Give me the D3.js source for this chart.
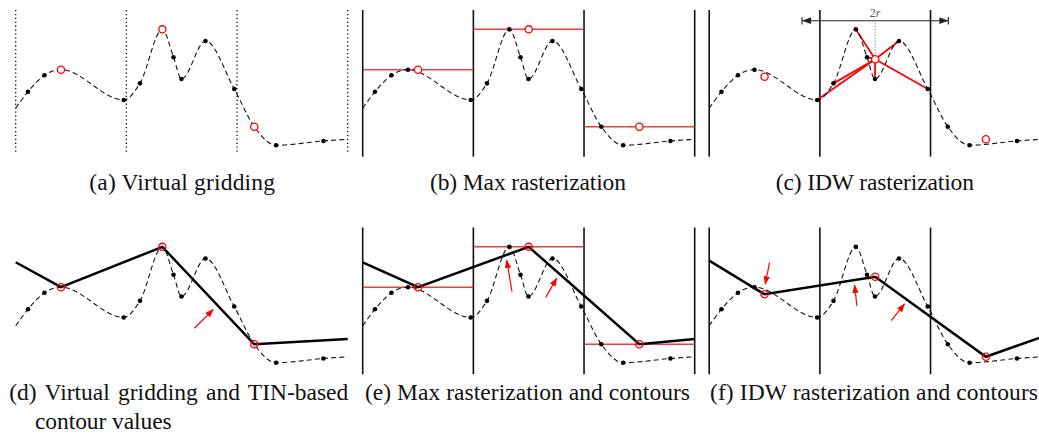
<!DOCTYPE html>
<html><head><meta charset="utf-8">
<script src="https://cdn.jsdelivr.net/npm/d3@7"></script>
<style>html,body{margin:0;padding:0;background:#fff;overflow:hidden}</style>
</head><body>
<svg id="chart" width="1039" height="441"></svg>
<script>
// ---- data (x in grid-cell units, y in elevation units 0..100) ----
const cellEdges = [0, 1, 2, 3];
const cellCenters = [0.5, 1.5, 2.5];
const sampleX = [0.111, 0.260, 0.409, 0.976, 1.123, 1.325, 1.426, 1.498, 1.715, 1.975, 2.156, 2.353, 2.781];
const sampleY = [44.3, 55.5, 59.3, 38.7, 50.0, 86.8, 67.8, 53.0, 78.9, 46.1, 20.4, 7.8, 10.7];
const curveEndX = [0, 3];
const curveEndY = [33.0, 11.9];
const virtualIdx = [2, 5, 10];
const maxValues = [59.3, 86.8, 20.4];
const idwValues = [54.5, 66.4, 11.9];
const idwCell = 1;
const idwNeighbours = [3, 4, 5, 6, 7, 8, 9];
const idwRadius = 0.661;
const dimLineY = 92.7;
const tinLineX = [0, 0.409, 1.325, 2.156, 3];
const tinLineY = [76.3, 59.3, 86.8, 20.4, 24.0];
const maxLineX = [0, 0.5, 1.5, 2.5, 3];
const maxLineY = [76.3, 59.3, 86.8, 20.4, 24.0];
const idwLineX = [0, 0.5, 1.5, 2.5, 3];
const idwLineY = [77.4, 54.5, 66.4, 11.9, 25.2];
const arrowsD = [[1.614, 31.3, 1.786, 44.2]];
const arrowsE = [[1.349, 56.2, 1.301, 77.8], [1.654, 52.4, 1.753, 65.4]];
const arrowsF = [[0.545, 76.0, 0.506, 61.3], [1.335, 46.5, 1.313, 60.8], [1.645, 36.5, 1.765, 47.9]];
const captionTop = ["(a) Virtual gridding", "(b) Max rasterization", "(c) IDW rasterization"];
const captionBottom = ["(d) Virtual gridding and TIN-based", "(e) Max rasterization and contours", "(f) IDW rasterization and contours"];
const captionExtra = "contour values";

// ---- layout ----
const svg = d3.select("#chart");
const RED = "#f21a1a";
const panelOX = [0, 347, 693.5];
const panelOY = [0, 217.5];

const defs = svg.append("defs");
defs.append("marker").attr("id", "redhead").attr("markerUnits", "userSpaceOnUse")
  .attr("markerWidth", 9).attr("markerHeight", 7).attr("refX", 8).attr("refY", 3.25).attr("orient", "auto")
  .append("path").attr("d", "M0,0 L8.5,3.25 L0,6.5 z").attr("fill", "#f00");
defs.append("marker").attr("id", "dimhead").attr("markerUnits", "userSpaceOnUse")
  .attr("markerWidth", 12).attr("markerHeight", 10).attr("refX", 10).attr("refY", 4).attr("orient", "auto-start-reverse")
  .attr("overflow", "visible")
  .call(m => {
    m.append("path").attr("d", "M1,0.6 L10,4 L1,7.4 z").attr("fill", "#222");
    m.append("path").attr("d", "M10,0.3 L10,7.7").attr("stroke", "#222").attr("stroke-width", 1.1);
  });

const pts = sampleX.map((x, i) => ({x, y: sampleY[i], i}));
const curvePts = [{x: curveEndX[0], y: curveEndY[0]}, ...pts, {x: curveEndX[1], y: curveEndY[1]}];

function panel(col, row, opts) {
  const ox = panelOX[col], oy = panelOY[row];
  const x = d3.scaleLinear().domain([0, 3]).range([15.7 + ox, 347.7 + ox]);
  const y = d3.scaleLinear().domain([0, 100]).range([156.7 + oy, 10 + oy]);
  const g = svg.append("g");
  const line = d3.line().x(d => x(d.x)).y(d => y(d.y));

  if (opts.grid) {
    g.selectAll(".gl").data(cellEdges).join("line")
      .attr("x1", d => x(d)).attr("x2", d => x(d))
      .attr("y1", y(100)).attr("y2", opts.grid === "dotted" ? y(1.8) : y(0))
      .attr("stroke", "#111")
      .attr("stroke-width", opts.grid === "dotted" ? 1.3 : 1.6)
      .attr("stroke-dasharray", opts.grid === "dotted" ? "1.3,2.6" : null);
  }
  if (opts.maxLines) {
    g.selectAll(".ml").data(maxValues).join("line")
      .attr("x1", (d, i) => x(cellEdges[i])).attr("x2", (d, i) => x(cellEdges[i + 1]))
      .attr("y1", d => y(d)).attr("y2", d => y(d))
      .attr("stroke", RED).attr("stroke-opacity", 0.85).attr("stroke-width", 1.5);
  }
  if (opts.spokes) {
    const cx = cellCenters[idwCell], cy = idwValues[idwCell];
    g.selectAll(".sp").data(idwNeighbours.map(k => pts[k])).join("line")
      .attr("x1", x(cx)).attr("y1", y(cy))
      .attr("x2", d => x(d.x)).attr("y2", d => y(d.y))
      .attr("stroke", "#f00").attr("stroke-width", 1.8);
    g.append("line")
      .attr("x1", x(cx - idwRadius)).attr("x2", x(cx + idwRadius))
      .attr("y1", y(dimLineY)).attr("y2", y(dimLineY))
      .attr("stroke", "#222").attr("stroke-width", 1.1)
      .attr("marker-start", "url(#dimhead)").attr("marker-end", "url(#dimhead)");
    g.append("line")
      .attr("x1", x(cx)).attr("x2", x(cx))
      .attr("y1", y(dimLineY) + 2).attr("y2", y(cy) - 3.6)
      .attr("stroke", "#666").attr("stroke-width", 1).attr("stroke-dasharray", "1,2");
    const t = g.append("text").attr("x", x(cx)).attr("y", y(dimLineY) - 3.5)
      .attr("text-anchor", "middle").attr("font-family", "Liberation Serif, serif")
      .attr("font-size", 12).attr("fill", "#555");
    t.append("tspan").text("2");
    t.append("tspan").attr("font-style", "italic").text("r");
  }
  g.append("path").datum(curvePts)
    .attr("d", line.curve(d3.curveMonotoneX))
    .attr("fill", "none").attr("stroke", "#111").attr("stroke-width", 1.1)
    .attr("stroke-dasharray", "5,3.2");
  const hide = opts.hideIdx || [];
  g.selectAll(".dot").data(pts.filter(p => !hide.includes(p.i))).join("circle")
    .attr("cx", d => x(d.x)).attr("cy", d => y(d.y)).attr("r", 2.3).attr("fill", "#000");
  if (opts.contour) {
    const [cxs, cys] = opts.contour;
    g.append("path").datum(cxs.map((v, i) => ({x: v, y: cys[i]})))
      .attr("d", d3.line().x(d => x(d.x)).y(d => y(d.y)))
      .attr("fill", "none").attr("stroke", "#000").attr("stroke-width", 2.5)
      .attr("stroke-linejoin", "miter");
  }
  if (opts.circles) {
    g.selectAll(".rc").data(opts.circles).join("circle")
      .attr("cx", d => x(d.x)).attr("cy", d => y(d.y)).attr("r", 3.6)
      .attr("fill", opts.circleFill).attr("stroke", "#f00").attr("stroke-width", 1.3);
  }
  if (opts.arrows) {
    g.selectAll(".ar").data(opts.arrows).join("line")
      .attr("x1", d => x(d[0])).attr("y1", d => y(d[1]))
      .attr("x2", d => x(d[2])).attr("y2", d => y(d[3]))
      .attr("stroke", "#f00").attr("stroke-width", 1.2)
      .attr("marker-end", "url(#redhead)");
  }
}

const virtualCircles = virtualIdx.map(k => ({x: sampleX[k], y: sampleY[k]}));
const maxCircles = cellCenters.map((c, i) => ({x: c, y: maxValues[i]}));
const idwCirclesTop = cellCenters.map((c, i) => ({x: c, y: idwValues[i]}));

panel(0, 0, {grid: "dotted", hideIdx: virtualIdx, circles: virtualCircles, circleFill: "#fff"});
panel(1, 0, {grid: "solid", maxLines: true, circles: maxCircles, circleFill: "#fff"});
panel(2, 0, {grid: "solid", spokes: true, circles: idwCirclesTop, circleFill: "#fff"});
panel(0, 1, {hideIdx: virtualIdx, contour: [tinLineX, tinLineY], circles: virtualCircles, circleFill: "none", arrows: arrowsD});
panel(1, 1, {grid: "solid", maxLines: true, contour: [maxLineX, maxLineY], circles: maxCircles, circleFill: "none", arrows: arrowsE});
panel(2, 1, {grid: "solid", contour: [idwLineX, idwLineY], circles: idwCirclesTop, circleFill: "none", arrows: arrowsF});

// ---- captions ----
const capFont = "'Liberation Serif', 'Times New Roman', serif";
const FS = 23.5;
function caption(s, x0, y0, width, justify) {
  const t = svg.append("text").attr("x", x0).attr("y", y0)
    .attr("font-family", capFont).attr("font-size", FS).attr("fill", "#111").text(s);
  const len = t.node().getComputedTextLength();
  if (justify) {
    const spaces = (s.match(/ /g) || []).length;
    if (spaces && width > len) t.attr("word-spacing", (width - len) / spaces);
  } else if (Math.abs(width - len) > 1) {
    t.attr("textLength", width).attr("lengthAdjust", "spacing");
  }
}
const topCap = [[89.3, 185.7], [430, 196], [775.7, 198.3]];
captionTop.forEach((s, i) => caption(s, topCap[i][0], 190, topCap[i][1], false));
const botCap = [[9.3, 339, true], [365, 325, false], [710, 328, false]];
captionBottom.forEach((s, i) => caption(s, botCap[i][0], 400, botCap[i][1], botCap[i][2]));
caption(captionExtra, 35, 429, 136.7, false);
</script>
</body></html>
